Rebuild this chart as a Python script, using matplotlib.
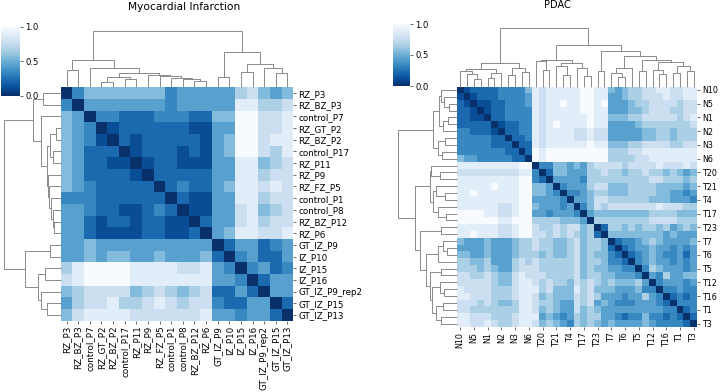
import numpy as np
import matplotlib
matplotlib.use("Agg")
import matplotlib.pyplot as plt
from matplotlib.collections import LineCollection

# ---------------- data ----------------
mi_title = "Myocardial Infarction"
mi_labels = ["RZ_P3", "RZ_BZ_P3", "control_P7", "RZ_GT_P2", "RZ_BZ_P2", "control_P17",
             "RZ_P11", "RZ_P9", "RZ_FZ_P5", "control_P1", "control_P8", "RZ_BZ_P12",
             "RZ_P6", "GT_IZ_P9", "IZ_P10", "IZ_P15", "IZ_P16", "GT_IZ_P9_rep2",
             "GT_IZ_P15", "GT_IZ_P13"]
# upper triangle (row i, columns i+1..n-1), digit d -> distance d/9
mi_upper = [
    "3555555534444467545",
    "444444434444488667",
    "33222333225599778",
    "1222222114499778",
    "212222214599788",
    "12221214599768",
    "1221114488567",
    "222224488677",
    "23224588787",
    "2114488677",
    "114478567",
    "24478677",
    "4588778",
    "244234",
    "34224",
    "3423",
    "244",
    "44",
    "2",
]
# dendrogram: [height, left, right], leaves are positions
mi_tree = [169,
           [82, [52, 0, 1],
                [59, 2, [42, [32, [15, 3, 4], [24, 5, 6]],
                             [38, 7, [35, 8, [29, 9, [24, 10, [20, 11, 12]]]]]]]],
           [107, [32, 13, 14], [69, [47, 15, 16], [59, 17, [42, 18, 19]]]]]

pdac_title = "PDAC"
pdac_n = 35
pdac_labels = ["N10", "N5", "N1", "N2", "N3", "N6", "T20", "T21", "T4", "T17",
               "T23", "T7", "T6", "T5", "T12", "T16", "T1", "T3"]
pdac_label_pos = list(range(0, 35, 2))
pdac_upper = [
    "1222233335 878888899 88 5456677887788",
    "122233334 878888899 88 4456677787788",
    "11223334 878898899 89 4445667777677",
    "1223333 878888899 88 4445567776677",
    "223333 878888889 88 5556677777678",
    "12233 878988889 88 4444566666667",
    "2233 878888778 77 4444455665666",
    "223 878888778 77 4444455665666",
    "22 878888889 88 5556677776677",
    "2 989999999 99 6667788888888",
    "989999999 99 6666778888888",
    "33554546 77 7767777877787",
    "2554446 67 6656676656545",
    "444436 66 6666667766656",
    "34446 77 5556666555545",
    "3345 66 5556666554434",
    "445 77 6666665554443",
    "35 76 7777777877766",
    "4 55 5555556666555",
    "66 6666667777666",
    "2 6656566564565",
    "5555555545444",
    "233456544445",
    "23445443434",
    "2345433424",
    "345443434",
    "36544434",
    "4364455",
    "344434",
    "33433",
    "2323",
    "333",
    "23",
    "2",
]
_pdac_N = [70, [52, [45, 0, [38, 1, [22, 2, 3]]], [40, [25, 4, 5], 6]],
               [55, [35, 7, 8], [42, 9, 10]]]
_pdac_Ta = [80, [77, 11, [50, 12, 13]],
                [71, [60, 14, [35, 15, 16]], [55, 17, [32, 18, 19]]]]
_pdac_Tb = [91, [55, [40, 22, [28, 23, 24]], 25],
                [80, [45, 26, 27],
                     [72, [50, 28, [38, 29, 30]], [60, [40, 31, 32], [45, 33, 34]]]]]
pdac_tree = [174.5, _pdac_N, [124.5, _pdac_Ta, [107.5, [45, 20, 21], _pdac_Tb]]]


def build_matrix(upper, n):
    m = np.zeros((n, n))
    for i, s in enumerate(upper):
        vals = s.replace(" ", "")
        for k, ch in enumerate(vals):
            j = i + 1 + k
            m[i, j] = m[j, i] = int(ch) / 9.0
    return m


mi_mat = build_matrix(mi_upper, len(mi_labels))
pdac_mat = build_matrix(pdac_upper, pdac_n)

# ---------------- drawing helpers ----------------
W, H = 720, 392
fig = plt.figure(figsize=(W / 100, H / 100), dpi=100)
cmap = plt.get_cmap("Blues_r")
TREE_COLOR = "#8a8a8a"


def rect(x0, y0, x1, y1):
    return [x0 / W, 1 - y1 / H, (x1 - x0) / W, (y1 - y0) / H]


def tree_segments(node, segs):
    if isinstance(node, (int, np.integer)):
        return node + 0.5, 0.0
    h, left, right = node
    pl, hl = tree_segments(left, segs)
    pr, hr = tree_segments(right, segs)
    segs.append([(pl, hl), (pl, h), (pr, h), (pr, hr)])
    return (pl + pr) / 2, h


def draw_dendro(box, tree, n, orient):
    ax = fig.add_axes(rect(*box))
    segs = []
    tree_segments(tree, segs)
    if orient == "left":
        segs = [[(y, x) for (x, y) in s] for s in segs]
        ax.set_xlim(tree[0], 0)
        ax.set_ylim(n, 0)
    else:
        ax.set_xlim(0, n)
        ax.set_ylim(0, tree[0])
    lc = LineCollection(segs, colors=TREE_COLOR, linewidths=0.7, clip_on=False)
    ax.add_collection(lc)
    ax.axis("off")
    return ax


def draw_heat(box, mat, labels, pos, fs):
    ax = fig.add_axes(rect(*box))
    n = mat.shape[0]
    im = ax.pcolormesh(np.arange(n + 1), np.arange(n + 1), mat, cmap=cmap,
                       vmin=0, vmax=1, linewidth=0, rasterized=True)
    ax.set_xlim(0, n)
    ax.set_ylim(n, 0)
    for sp in ax.spines.values():
        sp.set_visible(False)
    ticks = [p + 0.5 for p in pos]
    ax.set_xticks(ticks)
    ax.set_xticklabels(labels, rotation=90, fontsize=fs)
    ax.yaxis.tick_right()
    ax.set_yticks(ticks)
    ax.set_yticklabels(labels, rotation=0, fontsize=fs)
    ax.tick_params(length=2.3, width=0.5, pad=1.3, color="#333333")
    return ax, im


def draw_cbar(box, im, fs):
    cax = fig.add_axes(rect(*box))
    cb = fig.colorbar(im, cax=cax, ticks=[0, 0.5, 1.0])
    cb.ax.set_yticklabels(["0.0", "0.5", "1.0"], fontsize=fs)
    cb.outline.set_linewidth(0)
    cb.ax.tick_params(length=2.3, width=0.5, pad=1.3, color="#333333")
    return cb


# ---------------- Myocardial Infarction ----------------
n_mi = len(mi_labels)
hx0, hy0, hx1, hy1 = 60.7, 87.3, 293.3, 320.7
ax_mi, im_mi = draw_heat((hx0, hy0, hx1, hy1), mi_mat, mi_labels, list(range(n_mi)), 6.3)
draw_dendro((hx0, 31.0, hx1, hy0), mi_tree, n_mi, "top")
draw_dendro((4.0, hy0, hx0, hy1), mi_tree, n_mi, "left")
draw_cbar((0.5, 26.8, 20.0, 95.5), im_mi, 6.1)
fig.text(184 / W, 1 - 7 / H, mi_title, ha="center", va="center", fontsize=7.7)

# ---------------- PDAC ----------------
px0, py0, px1, py1 = 456.7, 86.5, 697.2, 327.0
ax_pd, im_pd = draw_heat((px0, py0, px1, py1), pdac_mat, pdac_labels, pdac_label_pos, 5.8)
draw_dendro((px0, 28.3, px1, py0), pdac_tree, pdac_n, "top")
draw_dendro((397.7, py0, px0, py1), pdac_tree, pdac_n, "left")
draw_cbar((393.0, 24.0, 410.0, 86.0), im_pd, 6.1)
fig.text(557 / W, 1 - 5.5 / H, pdac_title, ha="center", va="center", fontsize=7.0)

fig.savefig("out.png", dpi=100, facecolor="white")
